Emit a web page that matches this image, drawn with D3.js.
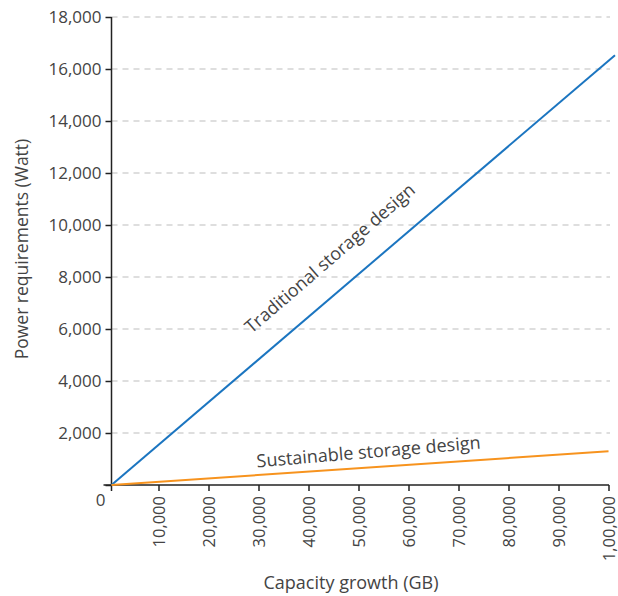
<!DOCTYPE html>
<html><head><meta charset="utf-8">
<script src="https://cdn.jsdelivr.net/npm/d3@7"></script>
<style>
body{margin:0;background:#fff;}
text{font-family:"Open Sans",sans-serif;fill:#444;}
</style></head>
<body><svg id="c" width="618" height="596"></svg>
<script>
// data
const xTicks = [10000,20000,30000,40000,50000,60000,70000,80000,90000,100000];
const xTickLabels = ["10,000","20,000","30,000","40,000","50,000","60,000","70,000","80,000","90,000","1,00,000"];
const yTicks = [0,2000,4000,6000,8000,10000,12000,14000,16000,18000];
const traditionalX = [600, 101300];
const traditionalY = [0, 16530];
const sustainableX = [600, 100000];
const sustainableY = [0, 1300];
const seriesNames = ["Traditional storage design","Sustainable storage design"];

const svg = d3.select("#c");
const x = d3.scaleLinear().domain([0,100000]).range([108.5,608.5]);
const y = d3.scaleLinear().domain([0,18000]).range([485,17]);
const axisX = x(600);

// gridlines
svg.append("g").selectAll("line").data(yTicks.filter(d=>d>0)).join("line")
  .attr("x1",axisX).attr("x2",610).attr("y1",d=>y(d)).attr("y2",d=>y(d))
  .attr("stroke","#bdbdbd").attr("stroke-width",1.2).attr("stroke-dasharray","6,5");

// y axis
const ya = svg.append("g").attr("transform",`translate(${axisX},0)`)
  .call(d3.axisLeft(y).tickValues(yTicks).tickSize(6).tickPadding(4)
    .tickFormat(d=> d===0 ? "" : d3.format(",")(d)));
ya.select(".domain").remove();
ya.append("line").attr("x1",0).attr("x2",0).attr("y1",y(18000)).attr("y2",y(0)+6).attr("stroke","#222").attr("stroke-width",1.5);
ya.selectAll(".tick line").attr("stroke","#222").attr("stroke-width",1.5);
ya.selectAll(".tick text").style("font-size","17px").attr("fill","#444");

// x axis
const xa = svg.append("g").attr("transform",`translate(0,${y(0)})`)
  .call(d3.axisBottom(x).tickValues(xTicks).tickSize(6)
    .tickFormat((d,i)=>xTickLabels[i]));
xa.select(".domain").remove();
xa.append("line").attr("x1",axisX-8).attr("x2",x(100000)+0.5).attr("y1",0).attr("y2",0).attr("stroke","#222").attr("stroke-width",1.5);
xa.selectAll(".tick line").attr("stroke","#222").attr("stroke-width",1.5);
xa.selectAll(".tick text").style("font-size","16.5px").attr("fill","#444")
  .attr("transform","rotate(-90)").attr("text-anchor","end")
  .attr("x",-11).attr("y",0).attr("dy","0.35em");

// origin label
svg.append("text").attr("x",x(0)-8).attr("y",y(0)+21).attr("text-anchor","middle")
  .style("font-size","17px").text("0");

// lines
const line = d3.line().x(d=>x(d[0])).y(d=>y(d[1]));
svg.append("path").datum(traditionalX.map((v,i)=>[v,traditionalY[i]]))
  .attr("d",line).attr("fill","none").attr("stroke","#1b75c0").attr("stroke-width",2);
svg.append("path").datum(sustainableX.map((v,i)=>[v,sustainableY[i]]))
  .attr("d",line).attr("fill","none").attr("stroke","#f7931e").attr("stroke-width",2);

// annotations
svg.append("text").attr("transform","translate(334,263) rotate(-40.8)")
  .attr("text-anchor","middle").style("font-size","18px").text(seriesNames[0]);
svg.append("text").attr("transform","translate(369,458) rotate(-4.8)")
  .attr("text-anchor","middle").style("font-size","18px").text(seriesNames[1]);

// axis titles
svg.append("text").attr("x",351).attr("y",589).attr("text-anchor","middle")
  .style("font-size","18px").text("Capacity growth (GB)");
svg.append("text").attr("transform","translate(28,249) rotate(-90)")
  .attr("text-anchor","middle").style("font-size","17.5px").text("Power requirements (Watt)");
</script></body></html>
